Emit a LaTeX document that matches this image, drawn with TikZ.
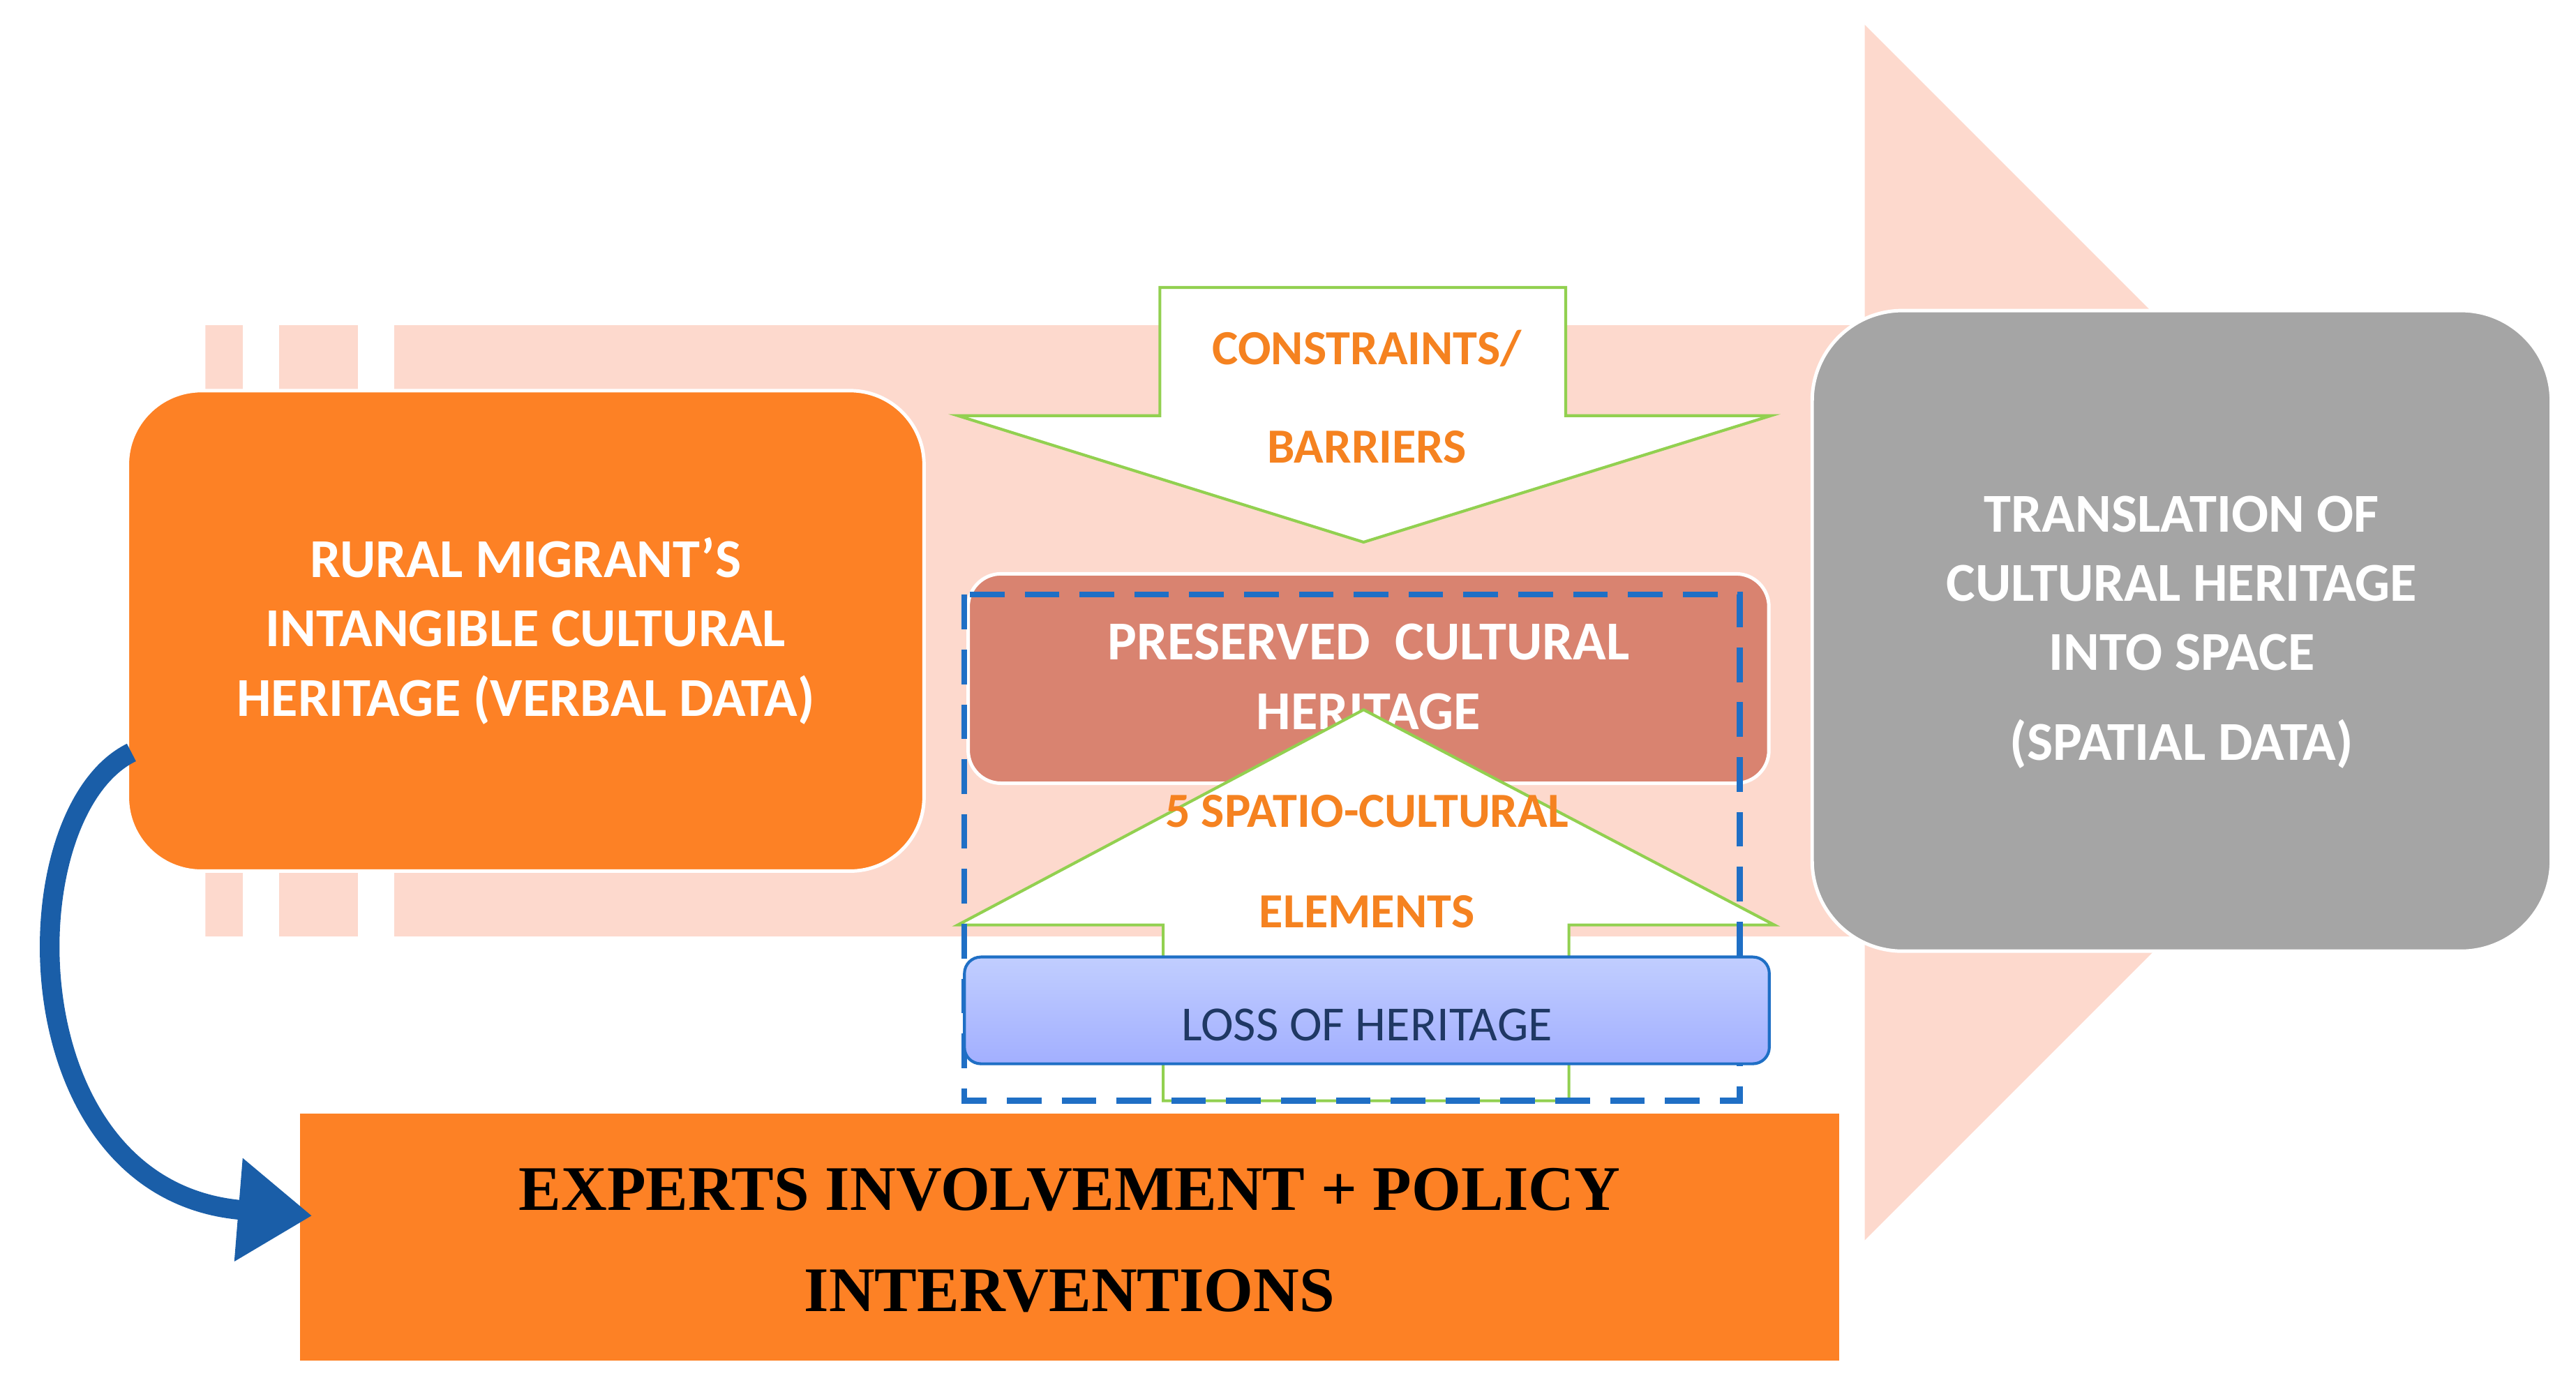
\documentclass[tikz,border=0pt]{standalone}
\usepackage{fontspec}
\setmainfont{Carlito}
\newfontfamily\serifb{Liberation Serif}
\usetikzlibrary{arrows.meta}
\definecolor{pinkbg}{HTML}{FDD9CD}
\definecolor{orng}{HTML}{FD8125}
\definecolor{grayb}{HTML}{A5A5A5}
\definecolor{greenl}{HTML}{92D050}
\definecolor{pres}{HTML}{D98370}
\definecolor{dblue}{HTML}{1F6FC5}
\definecolor{navy}{HTML}{1F3864}
\definecolor{ctext}{HTML}{F58220}
\tikzset{
  wtxt/.style={text=white,font=\fontsize{19}{24}\selectfont\bfseries,align=center},
  otxt/.style={text=ctext,font=\fontsize{17}{22}\selectfont\bfseries,align=center},
  rbox/.style={draw=white,line width=1.2pt},
  garrow/.style={fill=white,draw=greenl,line width=1pt}
}
\begin{document}
\begin{tikzpicture}[x=0.02cm,y=-0.02cm]
\useasboundingbox (0,0) rectangle (1568,847);
% big pink arrow
\fill[pinkbg] (125,198) -- (1135,198) -- (1135,15) -- (1505,385) -- (1135,755) -- (1135,570) -- (125,570) -- cycle;
\fill[white] (148,190) rectangle (170,580);
\fill[white] (218,190) rectangle (240,580);
% left orange box
\node[rbox,fill=orng,rounded corners=0.9cm,minimum width=9.7cm,minimum height=5.85cm] (lb) at (320,384) {};
\node[wtxt] (lbt) at (320,384) {RURAL MIGRANT'S\\INTANGIBLE CULTURAL\\HERITAGE (VERBAL DATA)};
% gray box
\node[rbox,fill=grayb,rounded corners=1.1cm,minimum width=9cm,minimum height=7.8cm] (gb) at (1328,384) {};
\node[wtxt] (gbt) at (1328,355) {TRANSLATION OF\\CULTURAL HERITAGE\\INTO SPACE};
\node[wtxt] (gbt2) at (1328,453) {(SPATIAL DATA)};
% down arrow
\draw[garrow] (706,175) -- (953,175) -- (953,253) -- (1078,253) -- (830,330) -- (583,253) -- (706,253) -- cycle;
\node[otxt] (c1) at (832,212) {CONSTRAINTS/};
\node[otxt] (c2) at (832,272) {BARRIERS};
% preserved box
\node[rbox,fill=pres,rounded corners=0.4cm,minimum width=9.75cm,minimum height=2.55cm] (pb) at (833,413) {};
\node[wtxt] (pbt) at (833,412) {PRESERVED\ \ CULTURAL\\HERITAGE};
% up arrow
\draw[garrow] (830,432) -- (1080,563) -- (955,563) -- (955,670) -- (708,670) -- (708,563) -- (583,563) -- cycle;
\node[otxt] (s1) at (832,494) {5 SPATIO-CULTURAL};
\node[otxt] (s2) at (832,555) {ELEMENTS};
% dashed rectangle
\draw[dblue,line width=2pt,dash pattern=on 12pt off 7pt] (587,362) rectangle (1059,670);
% loss box
\node[draw=dblue,line width=1pt,top color=blue!20!cyan!15!white!70!blue!60,bottom color=blue!40!cyan!20!white!60!blue!70,rounded corners=0.2cm,minimum width=9.8cm,minimum height=1.3cm] (loss) at (832,615) {};
\node[text=navy,font=\fontsize{17}{20}\selectfont] (losst) at (832,624) {LOSS OF HERITAGE};
% bottom rectangle
\node[fill=orng,minimum width=18.74cm,minimum height=3cm] (bb) at (651,753) {};
\node[font=\serifb\fontsize{22}{35}\selectfont\bfseries,align=center] (bbt) at (651,755) {EXPERTS INVOLVEMENT + POLICY\\INTERVENTIONS};
% blue curved arrow
\coordinate (a0) at (80,458);
\coordinate (a1) at (190,740);
\draw[dblue!85!black,line width=0.24cm,-{Triangle[length=0.9cm,width=1.2cm]}] (a0) .. controls (5,495) and (5,725) .. (a1);
\end{tikzpicture}
\end{document}
